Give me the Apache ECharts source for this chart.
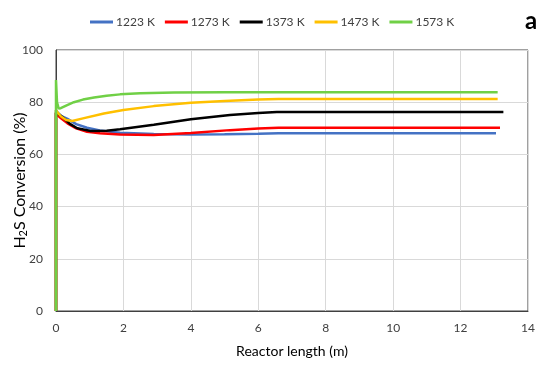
<!DOCTYPE html>
<html>
<head>
<meta charset="utf-8">
<script src="https://cdn.jsdelivr.net/npm/echarts@6/dist/echarts.min.js"></script>
<style>html,body{margin:0;padding:0;background:#fff}#c{width:550px;height:365px}</style>
</head>
<body>
<div id="c"></div>
<script>
var seriesNames = ['1223 K', '1273 K', '1373 K', '1473 K', '1573 K'];
var seriesColors = ['#4472C4', '#FF0000', '#000000', '#FFC000', '#70D046'];
var xTicks = [0, 2, 4, 6, 8, 10, 12, 14];
var yTicks = [0, 20, 40, 60, 80, 100];

var data1223 = [[0,0],[0,77],[0.05,76],[0.15,74.8],[0.34,73.6],[0.6,71.6],[0.92,70.2],[1.3,69.2],[1.9,68.3],[2.9,67.8],[4,67.6],[5,67.7],[6,67.9],[6.6,68.1],[13.05,68.1]];
var data1273 = [[0,0],[0,76],[0.05,75],[0.15,73.8],[0.34,71.9],[0.6,70],[0.92,68.7],[1.3,68.1],[1.9,67.6],[2.9,67.4],[4,68.2],[5.16,69.3],[6.0,69.9],[6.6,70.2],[13.17,70.2]];
var data1373 = [[0,0],[0,76],[0.05,75.5],[0.12,75],[0.24,73.8],[0.4,71.8],[0.63,70],[1.03,69],[1.5,69.1],[1.9,69.6],[2.9,71.4],[4,73.5],[5.16,75.1],[6.0,75.9],[6.55,76.2],[13.27,76.2]];
var data1473 = [[0,0],[0,77],[0.05,76],[0.15,74.5],[0.3,73.2],[0.48,72.8],[0.8,73.8],[1.42,75.7],[2,77],[2.9,78.5],[4,79.8],[5,80.5],[6,81],[6.6,81.2],[13.1,81.2]];
var data1573 = [[0,0],[0,88.5],[0.03,80],[0.08,77.6],[0.14,77.7],[0.3,78.7],[0.53,80],[0.8,81],[1.13,81.8],[1.5,82.5],[1.9,83],[2.5,83.4],[3.5,83.7],[5,83.8],[13.1,83.8]];

var allData = [data1223, data1273, data1373, data1473, data1573];
var FONT = 'Lato';

var chart = echarts.init(document.getElementById('c'), null, {renderer: 'canvas'});
var series = allData.map(function (d, i) {
  return {
    name: seriesNames[i],
    type: 'line',
    data: d,
    showSymbol: false,
    symbol: 'none',
    smooth: false,
    lineStyle: {width: 2.5, color: seriesColors[i]},
    itemStyle: {color: seriesColors[i]},
    z: 2 + i
  };
});

chart.setOption({
  animation: false,
  backgroundColor: '#ffffff',
  legend: {
    top: 11,
    left: 85,
    icon: 'rect',
    itemWidth: 23,
    itemHeight: 3,
    itemGap: 10,
    textStyle: {fontFamily: FONT, fontSize: 12, color: '#404040', padding: [0, 0, 0, -2]},
    data: seriesNames
  },
  graphic: [{
    type: 'text',
    left: 525,
    top: 9,
    style: {text: 'a', font: 'bold 24px ' + FONT, fill: '#000'}
  }],
  grid: {left: 56, right: 22, top: 50, bottom: 54, show: true, borderColor: '#404040', borderWidth: 1, containLabel: false, outerBoundsMode: 'none'},
  xAxis: {
    type: 'value',
    min: xTicks[0],
    max: xTicks[xTicks.length - 1],
    interval: 2,
    name: 'Reactor length (m)',
    nameLocation: 'middle',
    nameGap: 33,
    nameMoveOverlap: false,
    nameTextStyle: {fontFamily: FONT, fontSize: 14, color: '#000'},
    axisLine: {show: true, lineStyle: {color: '#404040', width: 1}},
    axisTick: {show: false},
    axisLabel: {fontFamily: FONT, fontSize: 12, color: '#404040', margin: 11},
    splitLine: {show: true, lineStyle: {color: '#d9d9d9', width: 1}}
  },
  yAxis: {
    type: 'value',
    min: yTicks[0],
    max: yTicks[yTicks.length - 1],
    interval: 20,
    name: '{a|H}{s|2}{a|S Conversion (%)}',
    nameLocation: 'middle',
    nameRotate: 90,
    nameGap: 27,
    nameMoveOverlap: false,
    nameTextStyle: {
      fontFamily: FONT, fontSize: 16, color: '#000',
      rich: {
        a: {fontFamily: FONT, fontSize: 16, color: '#000'},
        s: {fontFamily: FONT, fontSize: 11, color: '#000', verticalAlign: 'bottom', padding: [7, 0, 0, 0]}
      }
    },
    axisLine: {show: true, lineStyle: {color: '#404040', width: 1}},
    axisTick: {show: false},
    axisLabel: {fontFamily: FONT, fontSize: 12, color: '#404040', margin: 13},
    splitLine: {show: true, lineStyle: {color: '#d9d9d9', width: 1}}
  },
  series: series
});
</script>
</body>
</html>
